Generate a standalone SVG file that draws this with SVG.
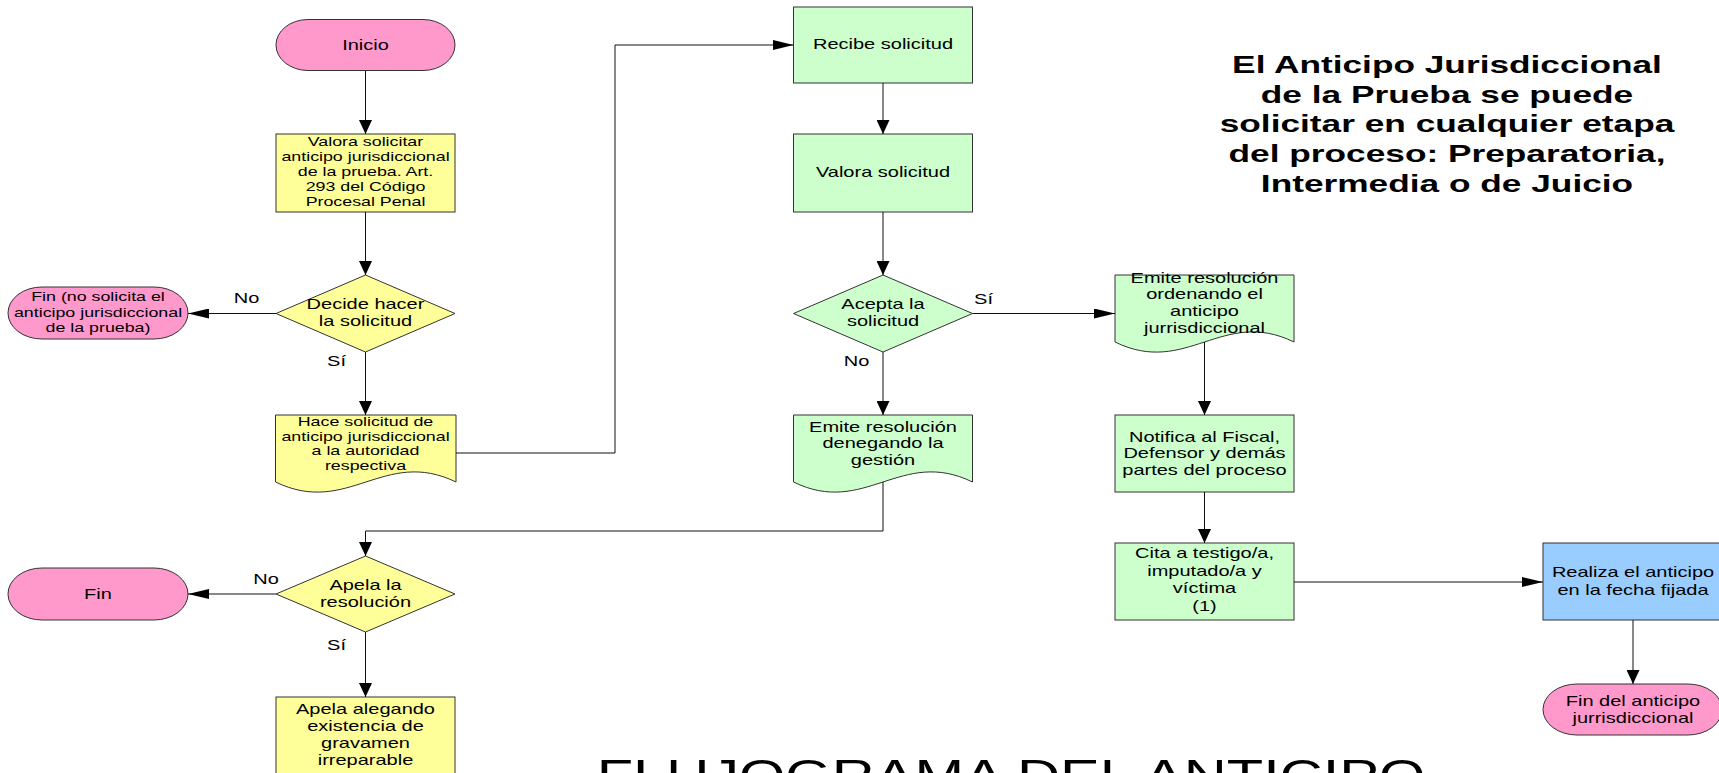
<svg xmlns="http://www.w3.org/2000/svg" width="1719" height="773" viewBox="0 0 1719 773">
<style>
.pink{fill:#FF99CC;stroke:#333;stroke-width:1}
.yel{fill:#FFFF99;stroke:#333;stroke-width:1}
.grn{fill:#CCFFCC;stroke:#333;stroke-width:1}
.blu{fill:#99CCFF;stroke:#333;stroke-width:1}
text{font-family:"Liberation Sans",Arial,sans-serif;fill:#000;text-anchor:middle}
.s{font-size:13px}
.m{font-size:14.6px}
.lbl{font-size:14.6px}
.note{font-size:24px;font-weight:bold}
.big{font-size:43.5px}
.ln{fill:none;stroke:#111;stroke-width:1}
.h{marker-end:url(#ah)}
.v{marker-end:url(#av)}
</style>
<defs>
<marker id="ah" markerUnits="userSpaceOnUse" markerWidth="21" markerHeight="10" viewBox="0 0 21 10" refX="21" refY="5" orient="auto"><path d="M0,0 L21,5 L0,10 z" fill="#000"/></marker>
<marker id="av" markerUnits="userSpaceOnUse" markerWidth="14" markerHeight="13" viewBox="0 0 14 13" refX="14" refY="6.5" orient="auto"><path d="M0,0 L14,6.5 L0,13 z" fill="#000"/></marker>
</defs>
<rect width="1719" height="773" fill="#fff"/>

<g id="inicio">
<rect class="pink" x="276" y="19.5" width="179" height="51" rx="32" ry="25.5"/>
<text class="m" transform="translate(365.5 0) scale(1.37 1)"><tspan x="0" y="50">Inicio</tspan></text>
</g>
<g id="valora-solicitar">
<rect class="yel" x="276" y="134" width="179" height="78"/>
<text class="s" transform="translate(365.5 0) scale(1.37 1)"><tspan x="0" y="146.5">Valora solicitar</tspan><tspan x="0" y="161.5">anticipo jurisdiccional</tspan><tspan x="0" y="176.5">de la prueba. Art.</tspan><tspan x="0" y="191.5">293 del Código</tspan><tspan x="0" y="206.5">Procesal Penal</tspan></text>
</g>
<g id="decide">
<polygon class="yel" points="365.5,275 455,313.5 365.5,352 276,313.5"/>
<text class="m" transform="translate(365.5 0) scale(1.37 1)"><tspan x="0" y="309">Decide hacer</tspan><tspan x="0" y="326">la solicitud</tspan></text>
</g>
<g id="fin-no-solicita">
<rect class="pink" x="8" y="287" width="180" height="52" rx="34" ry="26"/>
<text class="s" transform="translate(98 0) scale(1.37 1)"><tspan x="0" y="301.5">Fin (no solicita el</tspan><tspan x="0" y="317">anticipo jurisdiccional</tspan><tspan x="0" y="332.5">de la prueba)</tspan></text>
</g>
<g id="hace-solicitud">
<path class="yel" d="M275.5,415 H456 V482 C384,447 348,517 275.5,482 Z"/>
<text class="s" transform="translate(365.5 0) scale(1.37 1)"><tspan x="0" y="426">Hace solicitud de</tspan><tspan x="0" y="440.7">anticipo jurisdiccional</tspan><tspan x="0" y="455.4">a la autoridad</tspan><tspan x="0" y="470">respectiva</tspan></text>
</g>
<g id="apela-resolucion">
<polygon class="yel" points="365.5,556 455,594 365.5,632 276,594"/>
<text class="m" transform="translate(365.5 0) scale(1.37 1)"><tspan x="0" y="590">Apela la</tspan><tspan x="0" y="607">resolución</tspan></text>
</g>
<g id="fin">
<rect class="pink" x="8" y="568" width="180" height="52" rx="34" ry="26"/>
<text class="m" transform="translate(98 0) scale(1.37 1)"><tspan x="0" y="599">Fin</tspan></text>
</g>
<g id="apela-alegando">
<rect class="yel" x="276" y="697" width="179" height="77"/>
<text class="m" transform="translate(365.5 0) scale(1.37 1)"><tspan x="0" y="714.5">Apela alegando</tspan><tspan x="0" y="731.5">existencia de</tspan><tspan x="0" y="748.5">gravamen</tspan><tspan x="0" y="765.5">irreparable</tspan></text>
</g>

<g id="recibe">
<rect class="grn" x="793.5" y="7" width="179" height="76"/>
<text class="m" transform="translate(883 0) scale(1.37 1)"><tspan x="0" y="49">Recibe solicitud</tspan></text>
</g>
<g id="valora-solicitud">
<rect class="grn" x="793.5" y="134" width="179" height="78"/>
<text class="m" transform="translate(883 0) scale(1.37 1)"><tspan x="0" y="177">Valora solicitud</tspan></text>
</g>
<g id="acepta">
<polygon class="grn" points="883,275 972.5,313.5 883,352 793.5,313.5"/>
<text class="m" transform="translate(883 0) scale(1.37 1)"><tspan x="0" y="309">Acepta la</tspan><tspan x="0" y="326">solicitud</tspan></text>
</g>
<g id="emite-denegando">
<path class="grn" d="M793.5,415 H972.5 V482 C901,447 865,517 793.5,482 Z"/>
<text class="m" transform="translate(883 0) scale(1.37 1)"><tspan x="0" y="431.7">Emite resolución</tspan><tspan x="0" y="448.4">denegando la</tspan><tspan x="0" y="465">gestión</tspan></text>
</g>
<g id="emite-ordenando">
<path class="grn" d="M1115,275 H1294 V342 C1222.4,307 1186.6,377 1115,342 Z"/>
<text class="m" transform="translate(1204.5 0) scale(1.37 1)"><tspan x="0" y="282.7">Emite resolución</tspan><tspan x="0" y="299.4">ordenando el</tspan><tspan x="0" y="316">anticipo</tspan><tspan x="0" y="332.7">jurrisdiccional</tspan></text>
</g>
<g id="notifica">
<rect class="grn" x="1115" y="415" width="179" height="77"/>
<text class="m" transform="translate(1204.5 0) scale(1.37 1)"><tspan x="0" y="441.7">Notifica al Fiscal,</tspan><tspan x="0" y="458.5">Defensor y demás</tspan><tspan x="0" y="475.3">partes del proceso</tspan></text>
</g>
<g id="cita">
<rect class="grn" x="1115" y="543" width="179" height="77"/>
<text class="m" transform="translate(1204.5 0) scale(1.37 1)"><tspan x="0" y="558.5">Cita a testigo/a,</tspan><tspan x="0" y="576">imputado/a y</tspan><tspan x="0" y="593.5">víctima</tspan><tspan x="0" y="611">(1)</tspan></text>
</g>
<g id="realiza">
<rect class="blu" x="1543" y="543" width="179" height="77"/>
<text class="m" transform="translate(1633 0) scale(1.37 1)"><tspan x="0" y="577">Realiza el anticipo</tspan><tspan x="0" y="594.6">en la fecha fijada</tspan></text>
</g>
<g id="fin-anticipo">
<rect class="pink" x="1543" y="684" width="179" height="51" rx="34" ry="25.5"/>
<text class="m" transform="translate(1633 0) scale(1.37 1)"><tspan x="0" y="706">Fin del anticipo</tspan><tspan x="0" y="722.7">jurrisdiccional</tspan></text>
</g>

<g id="connectors">
<path class="ln v" d="M365.5,71 V134"/>
<path class="ln v" d="M365.5,212 V275"/>
<path class="ln h" d="M276,313.5 H188"/>
<path class="ln v" d="M365.5,352 V415"/>
<path class="ln h" d="M456,453 H615 V45 H793.5"/>
<path class="ln v" d="M883,83 V134"/>
<path class="ln v" d="M883,212 V275"/>
<path class="ln h" d="M972.5,313.5 H1115"/>
<path class="ln v" d="M883,352 V415"/>
<path class="ln v" d="M883,482 V531 H365.5 V556"/>
<path class="ln v" d="M1204.5,342 V415"/>
<path class="ln v" d="M1204.5,492 V543"/>
<path class="ln h" d="M1294,582 H1543"/>
<path class="ln v" d="M1633,620 V684"/>
<path class="ln h" d="M276,594 H188"/>
<path class="ln v" d="M365.5,632 V697"/>
<text class="lbl" transform="translate(246.5 0) scale(1.37 1)"><tspan x="0" y="303.5">No</tspan></text>
<text class="lbl" transform="translate(336.5 0) scale(1.37 1)"><tspan x="0" y="366">Sí</tspan></text>
<text class="lbl" transform="translate(983.5 0) scale(1.37 1)"><tspan x="0" y="304">Sí</tspan></text>
<text class="lbl" transform="translate(856.5 0) scale(1.37 1)"><tspan x="0" y="366">No</tspan></text>
<text class="lbl" transform="translate(266 0) scale(1.37 1)"><tspan x="0" y="584">No</tspan></text>
<text class="lbl" transform="translate(336.5 0) scale(1.37 1)"><tspan x="0" y="650">Sí</tspan></text>
</g>

<g id="nota">
<text class="note" transform="translate(1447 0) scale(1.47 1)"><tspan x="0" y="73.3">El Anticipo Jurisdiccional</tspan><tspan x="0" y="102.9">de la Prueba se puede</tspan><tspan x="0" y="132.5">solicitar en cualquier etapa</tspan><tspan x="0" y="162.1">del proceso: Preparatoria,</tspan><tspan x="0" y="191.7">Intermedia o de Juicio</tspan></text>
</g>
<g id="titulo">
<text class="big" transform="translate(1011 0) scale(1.37 1)"><tspan x="0" y="791">FLUJOGRAMA DEL ANTICIPO</tspan></text>
</g>
</svg>
